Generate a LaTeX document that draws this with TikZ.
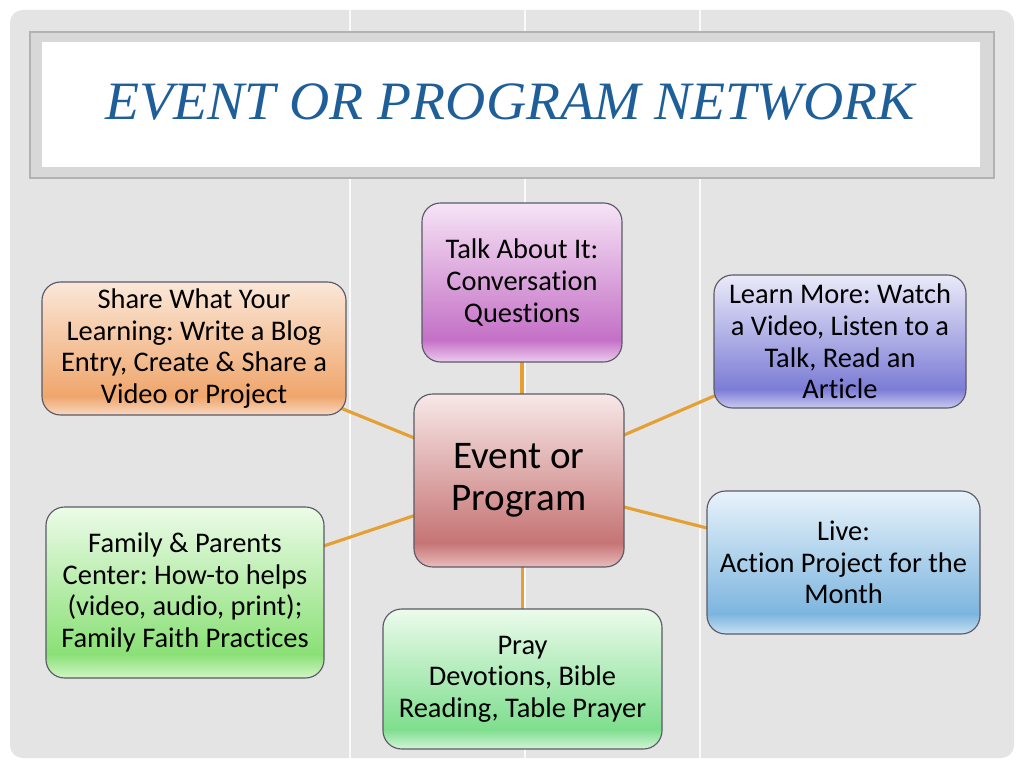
\documentclass[tikz,border=0pt]{standalone}
\usepackage{fontspec}
\setmainfont{Carlito}[Ligatures={NoCommon}]
\newfontfamily\titlefont{Liberation Serif}
\frenchspacing
\usetikzlibrary{calc}
\definecolor{panelgray}{HTML}{E4E4E4}
\definecolor{framegray}{HTML}{D8D8D8}
\definecolor{frameline}{HTML}{B2B2B2}
\definecolor{titleblue}{HTML}{1F5F99}
\definecolor{boxline}{HTML}{5A5A66}
\definecolor{linkorange}{HTML}{E59F32}
% gradient colours: T = top, M = dark band, B = bottom
\definecolor{talkT}{HTML}{F6E4F6}\definecolor{talkM}{HTML}{C470C6}\definecolor{talkB}{HTML}{ECCBEE}
\definecolor{shareT}{HTML}{FBE7D8}\definecolor{shareM}{HTML}{EFA66C}\definecolor{shareB}{HTML}{F8D8C2}
\definecolor{learnT}{HTML}{EAEAF9}\definecolor{learnM}{HTML}{7C7CD6}\definecolor{learnB}{HTML}{CACAF1}
\definecolor{eventT}{HTML}{F8E8E8}\definecolor{eventM}{HTML}{C67474}\definecolor{eventB}{HTML}{E8BCBC}
\definecolor{liveT}{HTML}{E8F3FB}\definecolor{liveM}{HTML}{7DB5DE}\definecolor{liveB}{HTML}{C8E1F3}
\definecolor{famT}{HTML}{ECFBE8}\definecolor{famM}{HTML}{8AE076}\definecolor{famB}{HTML}{D2F5C6}
\definecolor{prayT}{HTML}{ECFBEC}\definecolor{prayM}{HTML}{7EDE8E}\definecolor{prayB}{HTML}{D2F5D6}
\newcommand\mkgrad[1]{\pgfdeclareverticalshading{#1S}{100bp}{color(0bp)=(#1B); color(25bp)=(#1B); color(32bp)=(#1M); color(75bp)=(#1T); color(100bp)=(#1T)}}
\mkgrad{talk}\mkgrad{share}\mkgrad{learn}\mkgrad{event}\mkgrad{live}\mkgrad{fam}\mkgrad{pray}
\pgfdeclarelayer{back}\pgfdeclarelayer{links}
\pgfsetlayers{back,links,main}
\begin{document}
\begin{tikzpicture}[x=0.703125pt,y=-0.703125pt,
  box/.style={draw=boxline, line width=0.8pt, rounded corners=13pt, align=center,
    inner sep=0pt, text=black, font=\fontsize{20}{22.2}\selectfont},
  link/.style={draw=linkorange, line width=2.2pt}]
\useasboundingbox (0,0) rectangle (1024,768);
\begin{pgfonlayer}{back}
  \fill[white] (0,0) rectangle (1024,768);
  \fill[panelgray, rounded corners=9pt] (10,10) rectangle (1014,758);
  \foreach \xx in {350,525,700} \draw[white!96!gray, line width=1.4pt] (\xx,10) -- (\xx,758);
  \draw[fill=framegray, draw=frameline, line width=1pt] (30,32) rectangle (994,178);
  \fill[white] (42,42) rectangle (980,167);
\end{pgfonlayer}
\node[font=\titlefont\itshape\fontsize{38}{40}\selectfont, text=titleblue] (title) at (510,102)
  {\scalebox{1.03}[1]{EVENT OR PROGRAM NETWORK}};

\node[box, shade, shading=talkS, minimum width=140.6pt, minimum height=111.8pt] (talk) at (522,282.5)
  {Talk About It:\\Conversation\\Questions};
\node[box, shade, shading=shareS, minimum width=213.75pt, minimum height=93.5pt] (share) at (194,348.5)
  {Share What Your\\Learning: Write a Blog\\Entry, Create \& Share a\\Video or Project};
\node[box, shade, shading=learnS, minimum width=177.2pt, minimum height=93.5pt] (learn) at (840,341.5)
  {Learn More: Watch\\a Video, Listen to a\\Talk, Read an\\Article};
\node[box, shade, shading=eventS, minimum width=147.7pt, minimum height=121.6pt,
  font=\fontsize{27.5}{29.5}\selectfont] (event) at (519,480.5)
  {Event or\\Program};
\node[box, shade, shading=liveS, minimum width=191.95pt, minimum height=100.5pt] (live) at (843.5,562.5)
  {Live:\\Action Project for the\\Month};
\node[box, shade, shading=famS, minimum width=195.5pt, minimum height=120.2pt] (fam) at (185,592.5)
  {Family \& Parents\\Center: How-to helps\\(video, audio, print);\\Family Faith Practices};
\node[box, shade, shading=prayS, minimum width=196.2pt, minimum height=98.4pt] (pray) at (522.5,679)
  {Pray\\Devotions, Bible\\Reading, Table Prayer};

\begin{pgfonlayer}{links}
  \draw[link] (talk.center) -- (talk.center |- event.center);
  \draw[link] (pray.center) -- (pray.center |- event.center);
  \draw[link] (share.center) -- (event.center);
  \draw[link] (learn.center) -- (event.center);
  \draw[link] (fam.center) -- (event.center);
  \draw[link] (live.center) -- (event.center);
\end{pgfonlayer}
\end{tikzpicture}
\end{document}
